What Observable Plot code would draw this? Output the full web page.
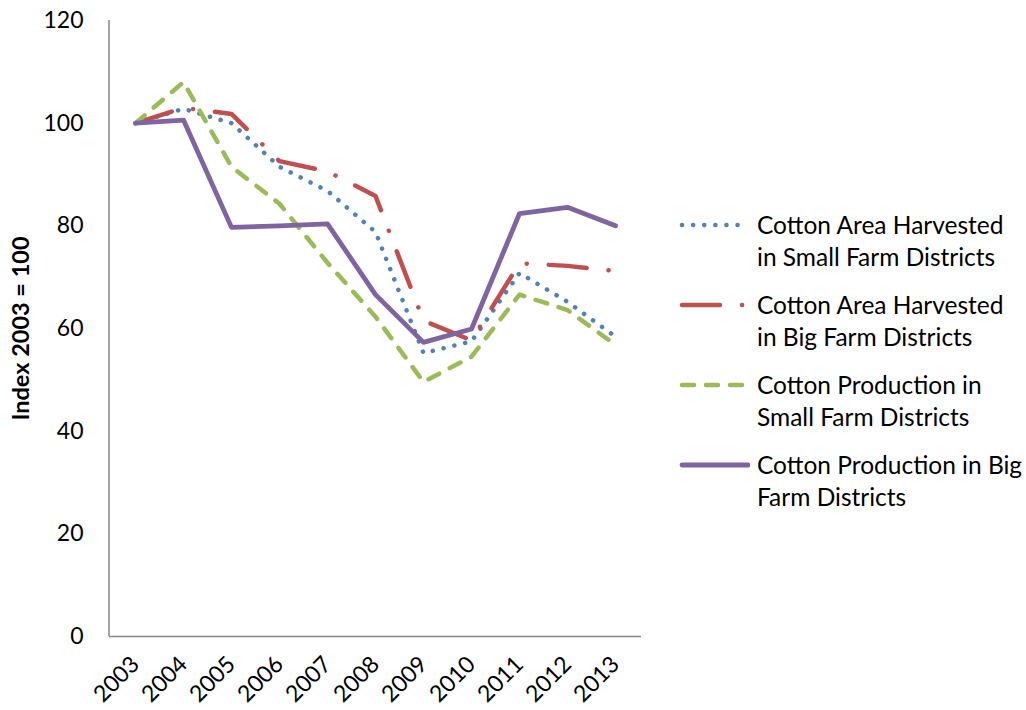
<!DOCTYPE html>
<html>
<head>
<meta charset="utf-8">
<script src="https://cdn.jsdelivr.net/npm/d3@7"></script>
<script src="https://cdn.jsdelivr.net/npm/@observablehq/plot@0.6"></script>
<style>
  html, body { margin: 0; padding: 0; background: #fff; }
  #wrap { position: relative; width: 1026px; height: 710px; font-family: Lato, "Open Sans", sans-serif; }
  #legend { position: absolute; left: 678px; top: 209px; }
  .entry { display: flex; align-items: flex-start; height: 80px; }
  .entry svg { flex: none; margin-top: 0px; }
  .entry .lbl { font-size: 24.5px; line-height: 32px; color: #000; margin-left: 7px; white-space: nowrap; }
</style>
</head>
<body>
<div id="wrap"><div id="chart"></div><div id="legend"></div></div>
<script>
const years = [2003, 2004, 2005, 2006, 2007, 2008, 2009, 2010, 2011, 2012, 2013];
const areaSmall = [100, 102.8, 100, 91.5, 86.8, 78.8, 55.2, 57.5, 70.8, 65.2, 58.4];
const areaBig   = [100, 103, 101.8, 92.6, 90.6, 85.8, 61.5, 57.7, 72.7, 72.2, 71.2];
const prodSmall = [100, 108, 91.5, 84.3, 72.8, 62.3, 49.6, 54.5, 66.6, 63.6, 56.8];
const prodBig   = [100, 100.6, 79.7, 80, 80.4, 66.6, 57.3, 59.9, 82.4, 83.6, 80];
const seriesNames = [
  ["Cotton Area Harvested", "in Small Farm Districts"],
  ["Cotton Area Harvested", "in Big Farm Districts"],
  ["Cotton Production in", "Small Farm Districts"],
  ["Cotton Production in Big", "Farm Districts"]
];
const yTicks = [0, 20, 40, 60, 80, 100, 120];

const colors = ["#4F81BD", "#C0504D", "#9BBB59", "#8064A2"];
const dashes = ["0.1 11", "38 22 0.1 22", "12 12", null];
const widths = [4.5, 4.5, 4.5, 4.8];
const allSeries = [areaSmall, areaBig, prodSmall, prodBig];

const toRows = vals => years.map((y, i) => ({year: String(y), value: vals[i]}));

const axisLine = (index, scales, values, dims) => {
  const ns = "http://www.w3.org/2000/svg";
  const g = document.createElementNS(ns, "g");
  const l = document.createElementNS(ns, "line");
  l.setAttribute("x1", dims.marginLeft);
  l.setAttribute("x2", dims.marginLeft);
  l.setAttribute("y1", dims.marginTop);
  l.setAttribute("y2", dims.height - dims.marginBottom);
  l.setAttribute("stroke", "#868686");
  l.setAttribute("stroke-width", "1.5");
  g.appendChild(l);
  return g;
};

const chart = Plot.plot({
  width: 1026,
  height: 710,
  marginLeft: 109,
  marginRight: 385,
  marginTop: 20,
  marginBottom: 74,
  style: {fontFamily: "Lato, 'Open Sans', sans-serif", fontSize: "23px", color: "#000", background: "#fff"},
  x: {type: "point", domain: years.map(String), padding: 0.5, label: null},
  y: {domain: [0, 120], ticks: yTicks, label: null},
  marks: [
    Plot.axisY({ticks: yTicks, tickSize: 0, tickPadding: 26, label: null, fill: "#000"}),
    Plot.axisX({tickSize: 0, tickRotate: -45, tickPadding: 24, label: null, fill: "#000"}),
    Plot.ruleY([0], {stroke: "#868686", strokeWidth: 1.5}),
    axisLine,
    ...allSeries.map((vals, i) => Plot.line(toRows(vals), {
      x: "year", y: "value", stroke: colors[i], strokeWidth: widths[i],
      strokeDasharray: dashes[i], strokeLinecap: "round", strokeLinejoin: "round"
    })),
    Plot.text(["Index 2003 = 100"], {frameAnchor: "left", textAnchor: "middle", rotate: -90, dx: -88, fontWeight: "bold", fontSize: 23.5, fill: "#000"})
  ]
});
document.getElementById("chart").appendChild(chart);

const legend = document.getElementById("legend");
seriesNames.forEach((lines, i) => {
  const e = document.createElement("div");
  e.className = "entry";
  const dash = dashes[i] ? ` stroke-dasharray="${dashes[i]}"` : "";
  e.innerHTML = `<svg width="72" height="32"><line x1="4" x2="70" y1="16" y2="16" stroke="${colors[i]}" stroke-width="${widths[i]}" stroke-linecap="round"${dash}/></svg><div class="lbl">${lines[0]}<br>${lines[1]}</div>`;
  legend.appendChild(e);
});
</script>
</body>
</html>
